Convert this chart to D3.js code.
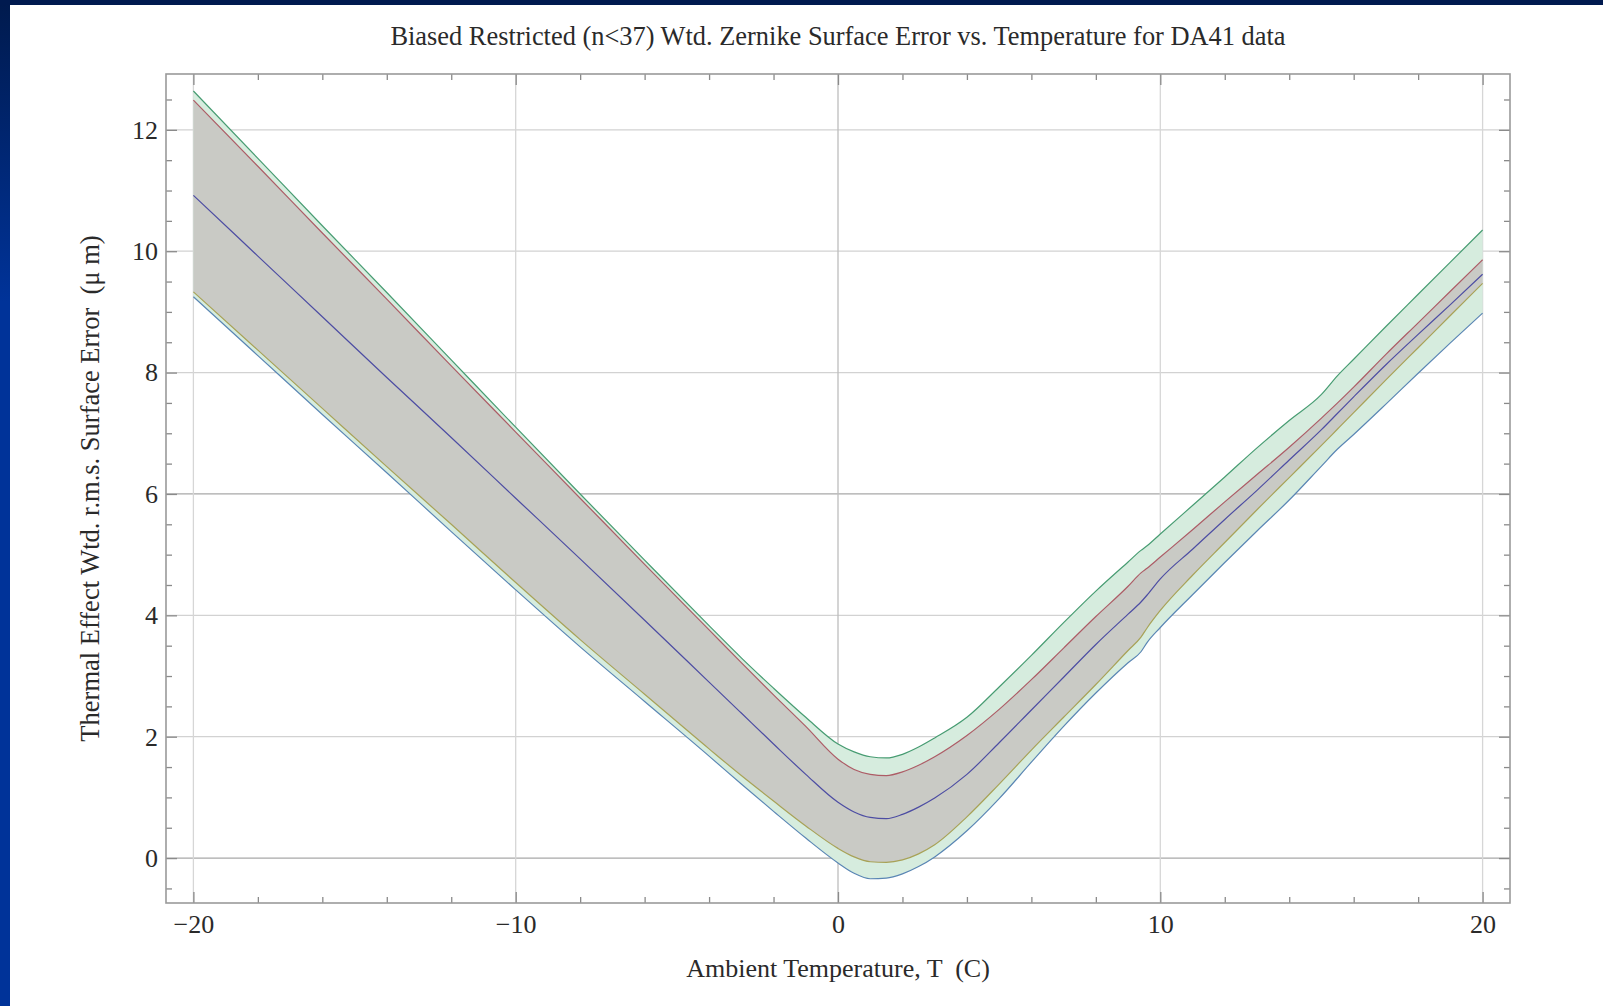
<!DOCTYPE html>
<html>
<head>
<meta charset="utf-8">
<script src="https://cdn.jsdelivr.net/npm/d3@7"></script>
<style>
	body { margin: 0; background: #fff; }
	svg { display: block; }
	text { font-family: "Liberation Serif", "Times New Roman", serif; fill: #2a2a2a; }
</style>
</head>
<body>
<script>
// values (temperature in C, error in microns)
var temps = [-20, -18, -16, -14, -12, -10, -8, -6, -4, -3, -2, -1, 0, 0.5, 1, 1.5, 2, 2.5, 3, 4, 5, 6, 7, 8, 9, 9.4, 9.6, 10, 11, 12, 13, 14, 15, 15.5, 16, 17, 18, 19, 20];
var upperOuter = [12.64, 11.53, 10.42, 9.32, 8.21, 7.10, 6.00, 4.91, 3.83, 3.30, 2.80, 2.32, 1.88, 1.75, 1.67, 1.65, 1.71, 1.83, 1.98, 2.32, 2.82, 3.34, 3.88, 4.40, 4.88, 5.07, 5.15, 5.34, 5.81, 6.28, 6.76, 7.21, 7.64, 7.95, 8.22, 8.76, 9.29, 9.82, 10.35];
var upperInner = [12.49, 11.40, 10.30, 9.21, 8.11, 7.02, 5.93, 4.84, 3.76, 3.22, 2.69, 2.17, 1.63, 1.46, 1.38, 1.36, 1.42, 1.53, 1.67, 2.02, 2.45, 2.94, 3.46, 3.98, 4.48, 4.70, 4.78, 4.96, 5.41, 5.87, 6.32, 6.77, 7.25, 7.50, 7.76, 8.30, 8.82, 9.34, 9.86];
var center = [10.92, 9.92, 8.92, 7.92, 6.93, 5.93, 4.93, 3.92, 2.90, 2.39, 1.88, 1.38, 0.92, 0.76, 0.67, 0.65, 0.72, 0.84, 0.99, 1.38, 1.90, 2.44, 2.98, 3.52, 4.02, 4.22, 4.34, 4.60, 5.09, 5.58, 6.06, 6.56, 7.06, 7.33, 7.60, 8.13, 8.63, 9.12, 9.62];
var lowerInner = [9.33, 8.37, 7.41, 6.45, 5.50, 4.54, 3.60, 2.70, 1.80, 1.36, 0.94, 0.53, 0.16, 0.02, -0.06, -0.07, -0.03, 0.07, 0.22, 0.68, 1.22, 1.78, 2.32, 2.86, 3.42, 3.64, 3.80, 4.08, 4.66, 5.20, 5.74, 6.27, 6.80, 7.07, 7.34, 7.88, 8.41, 8.94, 9.47];
var lowerOuter = [9.25, 8.28, 7.31, 6.35, 5.38, 4.42, 3.48, 2.58, 1.68, 1.22, 0.77, 0.33, -0.08, -0.25, -0.34, -0.33, -0.26, -0.14, 0.02, 0.45, 0.98, 1.58, 2.17, 2.72, 3.22, 3.40, 3.56, 3.80, 4.34, 4.87, 5.39, 5.90, 6.46, 6.74, 6.98, 7.48, 7.99, 8.49, 8.98];

var xMajorTicks = [-20, -10, 0, 10, 20];
var yMajorTicks = [0, 2, 4, 6, 8, 10, 12];

var titleText = "Biased Restricted (n<37) Wtd. Zernike Surface Error vs. Temperature for DA41 data";
var xLabelText = "Ambient Temperature, T  (C)";
var yLabelText = "Thermal Effect Wtd. r.m.s. Surface Error  (\u03BC m)";

var width = 1603, height = 1006;
var frame = {left: 166, right: 1510, top: 74, bottom: 903};

var svg = d3.select("body").append("svg")
	.attr("width", width)
	.attr("height", height);

// slide border: gradient strip on the left, dark bar on top
var defs = svg.append("defs");
var grad = defs.append("linearGradient")
	.attr("id", "edge")
	.attr("x1", 0).attr("y1", 0).attr("x2", 0).attr("y2", 1);
grad.append("stop").attr("offset", "0%").attr("stop-color", "#001a4d");
grad.append("stop").attr("offset", "30%").attr("stop-color", "#003399");
grad.append("stop").attr("offset", "100%").attr("stop-color", "#003399");

svg.append("rect").attr("x", 0).attr("y", 0).attr("width", width).attr("height", height).attr("fill", "#fff");
svg.append("rect").attr("x", 0).attr("y", 0).attr("width", 10).attr("height", height).attr("fill", "url(#edge)");
svg.append("rect").attr("x", 0).attr("y", 0).attr("width", width).attr("height", 5).attr("fill", "#001a4f");

var x = d3.scaleLinear().domain([-20.85, 20.85]).range([frame.left, frame.right]);
var y = d3.scaleLinear().domain([-0.74, 12.92]).range([frame.bottom, frame.top]);

var xMinor = d3.range(-20, 20.1, 2).filter(function(d){ return xMajorTicks.indexOf(d) < 0; });
var yMinor = d3.range(-0.5, 12.9, 0.5).filter(function(d){ return yMajorTicks.indexOf(d) < 0; });

// grid
var grid = svg.append("g");
grid.selectAll(".hg").data(yMajorTicks).enter().append("line")
	.attr("x1", frame.left).attr("x2", frame.right)
	.attr("y1", function(d){ return y(d); }).attr("y2", function(d){ return y(d); })
	.attr("stroke", function(d){ return (d === 0 || d === 6) ? "#a8a8a8" : "#d2d2d2"; })
	.attr("stroke-width", 1.3);
grid.selectAll(".vg").data(xMajorTicks).enter().append("line")
	.attr("y1", frame.top).attr("y2", frame.bottom)
	.attr("x1", function(d){ return x(d); }).attr("x2", function(d){ return x(d); })
	.attr("stroke", function(d){ return d === 0 ? "#bdbdbd" : "#d6d6d6"; })
	.attr("stroke-width", 1.3);

var rows = temps.map(function(t, i){
	return {t: t, g: upperOuter[i], r: upperInner[i], c: center[i], o: lowerInner[i], l: lowerOuter[i]};
});

var curve = d3.curveMonotoneX;

function band(top, bottom){
	return d3.area()
		.curve(curve)
		.x(function(d){ return x(d.t); })
		.y0(function(d){ return y(d[bottom]); })
		.y1(function(d){ return y(d[top]); });
}

svg.append("path").datum(rows).attr("d", band("g", "l")).attr("fill", "#d6ecde");
svg.append("path").datum(rows).attr("d", band("r", "o")).attr("fill", "#c9cac5");

var series = [
	{key: "l", color: "#5a86b4"},
	{key: "o", color: "#a8a257"},
	{key: "c", color: "#4d4da3"},
	{key: "r", color: "#ad5c66"},
	{key: "g", color: "#479c72"}
];
series.forEach(function(s){
	var line = d3.line()
		.curve(curve)
		.x(function(d){ return x(d.t); })
		.y(function(d){ return y(d[s.key]); });
	svg.append("path").datum(rows)
		.attr("d", line)
		.attr("fill", "none")
		.attr("stroke", s.color)
		.attr("stroke-width", 1.2);
});

// frame ticks on all four sides, pointing inward
function styleAxis(g){
	g.select(".domain").remove();
	g.selectAll(".tick line").attr("stroke", "#8a8a8a").attr("stroke-width", 1.3);
	g.selectAll("text")
		.attr("font-family", "Liberation Serif, serif")
		.attr("font-size", 26)
		.attr("fill", "#2a2a2a");
}

function addAxis(axis, tx, ty){
	svg.append("g").attr("transform", "translate(" + tx + "," + ty + ")").call(axis).call(styleAxis);
}

var fmt = d3.format("d");
addAxis(d3.axisBottom(x).tickValues(xMajorTicks).tickSize(-11).tickPadding(12).tickFormat(fmt), 0, frame.bottom);
addAxis(d3.axisBottom(x).tickValues(xMinor).tickSize(-6).tickFormat(""), 0, frame.bottom);
addAxis(d3.axisTop(x).tickValues(xMajorTicks).tickSize(-11).tickFormat(""), 0, frame.top);
addAxis(d3.axisTop(x).tickValues(xMinor).tickSize(-6).tickFormat(""), 0, frame.top);
addAxis(d3.axisLeft(y).tickValues(yMajorTicks).tickSize(-11).tickPadding(8).tickFormat(fmt), frame.left, 0);
addAxis(d3.axisLeft(y).tickValues(yMinor).tickSize(-6).tickFormat(""), frame.left, 0);
addAxis(d3.axisRight(y).tickValues(yMajorTicks).tickSize(-11).tickFormat(""), frame.right, 0);
addAxis(d3.axisRight(y).tickValues(yMinor).tickSize(-6).tickFormat(""), frame.right, 0);

svg.append("rect")
	.attr("x", frame.left).attr("y", frame.top)
	.attr("width", frame.right - frame.left).attr("height", frame.bottom - frame.top)
	.attr("fill", "none")
	.attr("stroke", "#9a9a9a")
	.attr("stroke-width", 1.6);

// labels
svg.append("text")
	.attr("x", (frame.left + frame.right) / 2).attr("y", 45)
	.attr("text-anchor", "middle")
	.attr("font-size", 26.4)
	.style("white-space", "pre")
	.text(titleText);

svg.append("text")
	.attr("x", (frame.left + frame.right) / 2).attr("y", 977)
	.attr("text-anchor", "middle")
	.attr("font-size", 26)
	.style("white-space", "pre")
	.text(xLabelText);

svg.append("text")
	.attr("transform", "translate(99," + ((frame.top + frame.bottom) / 2) + ") rotate(-90)")
	.attr("text-anchor", "middle")
	.attr("font-size", 26.5)
	.style("white-space", "pre")
	.text(yLabelText);
</script>
</body>
</html>
